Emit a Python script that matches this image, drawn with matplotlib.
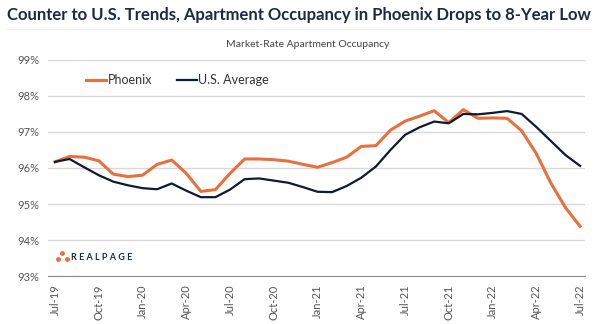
import matplotlib
matplotlib.use("Agg")
import matplotlib.pyplot as plt
import numpy as np

plt.rcParams['font.family'] = ['Lato', 'DejaVu Sans']

# monthly, Jul-19 .. Jul-22
months = ["Jul-19", "Aug-19", "Sep-19", "Oct-19", "Nov-19", "Dec-19",
          "Jan-20", "Feb-20", "Mar-20", "Apr-20", "May-20", "Jun-20",
          "Jul-20", "Aug-20", "Sep-20", "Oct-20", "Nov-20", "Dec-20",
          "Jan-21", "Feb-21", "Mar-21", "Apr-21", "May-21", "Jun-21",
          "Jul-21", "Aug-21", "Sep-21", "Oct-21", "Nov-21", "Dec-21",
          "Jan-22", "Feb-22", "Mar-22", "Apr-22", "May-22", "Jun-22",
          "Jul-22"]
phoenix = [96.17, 96.32, 96.30, 96.20, 95.83, 95.76, 95.80, 96.10, 96.22,
           95.85, 95.35, 95.40, 95.85, 96.25, 96.25, 96.23, 96.19, 96.10,
           96.02, 96.15, 96.30, 96.60, 96.62, 97.05, 97.30, 97.44, 97.59,
           97.26, 97.62, 97.38, 97.39, 97.38, 97.03, 96.40, 95.58, 94.90,
           94.38]
us_avg = [96.17, 96.25, 96.02, 95.80, 95.62, 95.52, 95.44, 95.41, 95.57,
          95.37, 95.19, 95.19, 95.40, 95.69, 95.71, 95.65, 95.59, 95.47,
          95.34, 95.33, 95.50, 95.73, 96.04, 96.50, 96.92, 97.13, 97.29,
          97.24, 97.50, 97.49, 97.53, 97.58, 97.50, 97.14, 96.75, 96.36,
          96.06]

orange = "#e8703f"
navy = "#0e1a33"
x = np.arange(len(months))

fig = plt.figure(figsize=(6, 3.24), dpi=100)
ax = fig.add_axes([0.08, 0.148, 0.895, 0.667])

ax.plot(x, phoenix, color=orange, lw=2.2, solid_joinstyle="round", label="Phoenix")
ax.plot(x, us_avg, color=navy, lw=1.6, solid_joinstyle="round", label="U.S. Average")

ax.set_xlim(-0.48, 36.34)
ax.set_ylim(93, 99)
ax.set_yticks(np.arange(93, 100, 1))
ax.set_yticklabels([f"{v}%" for v in range(93, 100)])
ax.set_xticks(x[::3])
ax.set_xticklabels(months[::3], rotation=90)
ax.tick_params(length=0, labelsize=8, colors="#555555", pad=6)
ax.grid(axis="y", color="#d9d9d9", lw=1)
ax.set_axisbelow(True)
for s in ["top", "right", "left"]:
    ax.spines[s].set_visible(False)
ax.spines["bottom"].set_color("#8c8c8c")

ax.legend(loc="upper left", bbox_to_anchor=(0.125, 0.805), bbox_transform=fig.transFigure,
          ncol=2, frameon=False, fontsize=9, handlelength=1.6, handletextpad=0.1,
          columnspacing=2.0, labelcolor="#333333")

fig.text(0.012, 0.955, "Counter to U.S. Trends, Apartment Occupancy in Phoenix Drops to 8-Year Low",
         fontsize=12, fontweight="bold", color="#1b2a47", va="center")
fig.add_artist(plt.Line2D([0.012, 0.985], [0.912, 0.912], color="#f0f0f0", lw=0.8))
fig.text(0.512, 0.862, "Market-Rate Apartment Occupancy", fontsize=7.5,
         color="#444444", ha="center", va="center")

# RealPage logo
ax.scatter([58.3 / 600, 62.3 / 600, 66.7 / 600], [1 - 259.3 / 324, 1 - 252.7 / 324, 1 - 259.3 / 324],
           s=6, color=orange, transform=fig.transFigure, clip_on=False)
fig.text(71 / 600, 1 - 257 / 324, "R E A L P A G E", fontsize=6.5, color="#1b2a47",
         fontweight="bold", va="center")

fig.savefig("out.png", dpi=100)
